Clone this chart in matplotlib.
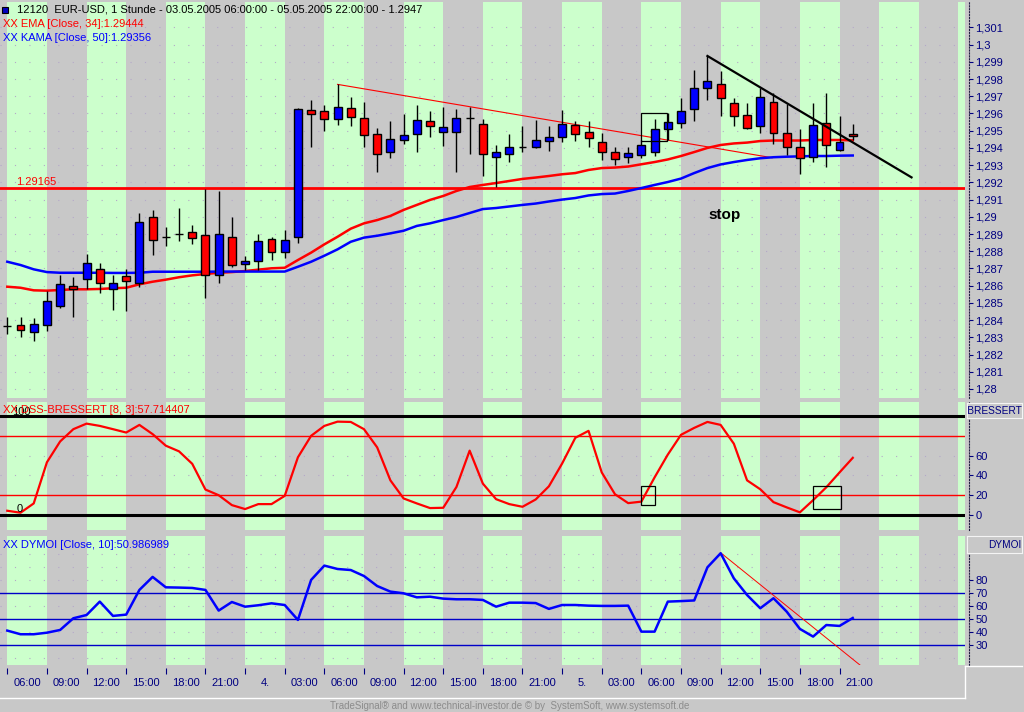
import matplotlib
matplotlib.use("Agg")
import matplotlib.pyplot as plt
from matplotlib.patches import Rectangle
from matplotlib.lines import Line2D
import numpy as np

plt.rcParams['font.family'] = ['Liberation Sans', 'DejaVu Sans']

# hourly bars, 03.05.2005 06:00 .. 05.05.2005 22:00
opens = [1.28365, 1.28370, 1.28332, 1.28370, 1.28480, 1.28596, 1.28637, 1.28695, 1.28581, 1.28656,
         1.28614, 1.28999, 1.28884, 1.28902, 1.28910, 1.28893, 1.28660, 1.28881, 1.28726, 1.28742,
         1.28869, 1.28794, 1.28881, 1.29618, 1.29613, 1.29570, 1.29630, 1.29572, 1.29479, 1.29375,
         1.29444, 1.29479, 1.29555, 1.29494, 1.29494, 1.29572, 1.29539, 1.29346, 1.29363, 1.29405,
         1.29407, 1.29442, 1.29465, 1.29533, 1.29491, 1.29436, 1.29375, 1.29346, 1.29357, 1.29376,
         1.29508, 1.29543, 1.29624, 1.29746, 1.29769, 1.29659, 1.29589, 1.29527, 1.29665, 1.29485,
         1.29404, 1.29349, 1.29543, 1.29388, 1.29481]
highs = [1.28416, 1.28416, 1.28410, 1.28567, 1.28660, 1.28652, 1.28784, 1.28733, 1.28662, 1.28697,
         1.29020, 1.29040, 1.28943, 1.29051, 1.28952, 1.29160, 1.29152, 1.29001, 1.28772, 1.28900,
         1.28884, 1.28923, 1.29630, 1.29678, 1.29649, 1.29769, 1.29697, 1.29665, 1.29514, 1.29556,
         1.29597, 1.29649, 1.29614, 1.29639, 1.29624, 1.29639, 1.29566, 1.29417, 1.29481, 1.29527,
         1.29562, 1.29527, 1.29620, 1.29558, 1.29556, 1.29485, 1.29407, 1.29407, 1.29446, 1.29566,
         1.29601, 1.29688, 1.29852, 1.29934, 1.29847, 1.29692, 1.29659, 1.29746, 1.29717, 1.29655,
         1.29510, 1.29659, 1.29721, 1.29585, 1.29539]
lows = [1.28317, 1.28303, 1.28280, 1.28335, 1.28468, 1.28419, 1.28582, 1.28556, 1.28459, 1.28455,
        1.28594, 1.28780, 1.28830, 1.28861, 1.28842, 1.28527, 1.28617, 1.28710, 1.28691, 1.28691,
        1.28749, 1.28759, 1.28846, 1.29407, 1.29500, 1.29535, 1.29529, 1.29407, 1.29262, 1.29343,
        1.29421, 1.29378, 1.29465, 1.29411, 1.29262, 1.29365, 1.29237, 1.29175, 1.29320, 1.29378,
        1.29398, 1.29384, 1.29436, 1.29442, 1.29407, 1.29330, 1.29301, 1.29314, 1.29340, 1.29353,
        1.29446, 1.29514, 1.29558, 1.29678, 1.29587, 1.29527, 1.29510, 1.29485, 1.29423, 1.29359,
        1.29249, 1.29320, 1.29291, 1.29380, 1.29446]
closes = [1.28365, 1.28340, 1.28375, 1.28509, 1.28608, 1.28578, 1.28730, 1.28617, 1.28614, 1.28625,
          1.28968, 1.28864, 1.28884, 1.28902, 1.28875, 1.28662, 1.28898, 1.28718, 1.28745, 1.28858,
          1.28796, 1.28864, 1.29624, 1.29599, 1.29566, 1.29636, 1.29578, 1.29473, 1.29363, 1.29450,
          1.29475, 1.29560, 1.29529, 1.29521, 1.29572, 1.29572, 1.29363, 1.29375, 1.29404, 1.29405,
          1.29446, 1.29462, 1.29539, 1.29481, 1.29456, 1.29376, 1.29334, 1.29369, 1.29415, 1.29512,
          1.29552, 1.29613, 1.29746, 1.29787, 1.29688, 1.29585, 1.29514, 1.29694, 1.29485, 1.29407,
          1.29340, 1.29531, 1.29415, 1.29436, 1.29470]

ema34 = [1.28594, 1.28588, 1.28573, 1.28571, 1.28575, 1.28579, 1.28579, 1.28581, 1.28585, 1.28588,
         1.28608, 1.28623, 1.28635, 1.28649, 1.28660, 1.28668, 1.28675, 1.28679, 1.28685, 1.28693,
         1.28701, 1.28704, 1.28749, 1.28792, 1.28840, 1.28884, 1.28931, 1.28962, 1.28981, 1.29005,
         1.29040, 1.29069, 1.29098, 1.29121, 1.29150, 1.29173, 1.29185, 1.29196, 1.29208, 1.29220,
         1.29228, 1.29237, 1.29247, 1.29254, 1.29272, 1.29283, 1.29286, 1.29292, 1.29305, 1.29318,
         1.29333, 1.29353, 1.29376, 1.29400, 1.29417, 1.29426, 1.29431, 1.29440, 1.29443, 1.29443,
         1.29443, 1.29446, 1.29446, 1.29446, 1.29444]
kama50 = [1.28739, 1.28720, 1.28695, 1.28679, 1.28675, 1.28675, 1.28675, 1.28675, 1.28674, 1.28674,
          1.28675, 1.28681, 1.28681, 1.28681, 1.28681, 1.28681, 1.28682, 1.28682, 1.28682, 1.28682,
          1.28682, 1.28682, 1.28710, 1.28739, 1.28774, 1.28811, 1.28855, 1.28879, 1.28890, 1.28904,
          1.28919, 1.28947, 1.28962, 1.28981, 1.28999, 1.29022, 1.29045, 1.29051, 1.29060, 1.29069,
          1.29077, 1.29089, 1.29100, 1.29109, 1.29124, 1.29132, 1.29135, 1.29150, 1.29167, 1.29185,
          1.29202, 1.29222, 1.29254, 1.29283, 1.29304, 1.29318, 1.29330, 1.29340, 1.29346, 1.29349,
          1.29351, 1.29353, 1.29353, 1.29355, 1.29356]

dss = [4.3, 2.3, 11.7, 53.3, 74.3, 86.7, 92.3, 90, 86.7, 83.3,
       91, 81.7, 70, 64.3, 51.7, 25.7, 20, 10, 6, 11,
       11, 19.3, 58.3, 80, 90, 94.3, 94, 86.7, 68.3, 35,
       16.7, 11.7, 7, 7.3, 28.3, 65, 31.7, 16, 11, 8.3,
       15.7, 29, 52, 78, 85, 43, 21, 12, 13.5, 38,
       61, 81, 88, 94, 91, 72, 35, 26, 13, 7.7,
       2.7, 15, 28, 43, 57.7]
dymoi = [41.3, 38.5, 38.5, 39.7, 41.8, 50.8, 53.3, 63.6, 52.6, 53.6,
         72.6, 82.6, 74.6, 74.4, 74.1, 72.6, 56.7, 63.3, 59.7, 60.8,
         62.3, 61, 49.5, 80.3, 91.3, 88.7, 87.9, 83.3, 75.6, 71.3,
         70, 66.9, 67.4, 65.9, 65.4, 65.4, 64.9, 59.7, 62.8, 62.8,
         62.5, 58, 61, 61, 60.5, 60.3, 60.3, 60.5, 40.5, 40.5,
         63.6, 64, 64.5, 90, 100.8, 81.5, 68.7, 58.5, 66.2, 55.9,
         42.6, 36.7, 45.6, 44.9, 51]

time_labels = ['06:00', '09:00', '12:00', '15:00', '18:00', '21:00', '4.', '03:00',
               '06:00', '09:00', '12:00', '15:00', '18:00', '21:00', '5.', '03:00',
               '06:00', '09:00', '12:00', '15:00', '18:00', '21:00']
price_ticks = [1.280 + 0.001 * k for k in range(22)]
dss_ticks = [0, 20, 40, 60]
dymoi_ticks = [30, 40, 50, 60, 70, 80]

support_level = 1.29165
red_trend_x, red_trend_y = [25, 57.9], [1.29769, 1.29343]
black_trend_x, black_trend_y = [53, 68.45], [1.29934, 1.29229]
price_box = [47.95, 49.95, 1.2944, 1.2960]
dss_boxes = [[48.0, 49.0, 9.7, 29.0], [61.0, 63.1, 6.5, 29.5]]
dymoi_trend_x, dymoi_trend_y = [54, 64.55], [101.2, 14.8]

W, H = 1024, 712
GRAY = '#c8c8c8'
GREEN = '#ccffcc'
NAVY = '#000080'
FS = 8
X0, X1 = -7.3 / 13.21, (965 - 7.3) / 13.21


def px_axes(fig, x0, y0, x1, y1):
    return fig.add_axes([x0 / W, 1 - y1 / H, (x1 - x0) / W, (y1 - y0) / H])


def base_panel(ax, ylim, grid_levels):
    ax.set_facecolor(GRAY)
    ax.set_xlim(X0, X1)
    ax.set_ylim(*ylim)
    for k in range(0, 75, 6):
        ax.axvspan(k, k + 3, color=GREEN, lw=0, zorder=0)
    for g in grid_levels:
        ax.axhline(g, color='#b4a8c8', lw=0.8, ls=(0, (1, 12)), zorder=1)
    for s in ['top', 'left', 'bottom']:
        ax.spines[s].set_visible(False)
    ax.spines['right'].set_position(('outward', 3))
    ax.spines['right'].set_linestyle(':')
    ax.spines['right'].set_linewidth(0.8)
    ax.spines['right'].set_color('#202040')
    ax.set_xticks([])
    ax.yaxis.tick_right()
    ax.tick_params(axis='y', direction='out', length=3, width=0.8, color=NAVY,
                   labelcolor=NAVY, labelsize=FS, pad=1.5)


fig = plt.figure(figsize=(W / 100, H / 100), dpi=100, facecolor=GRAY)

# price panel
ax = px_axes(fig, 0, 2, 965, 398)
base_panel(ax, (1.28 - 9 / 17220, 1.28 + 387 / 17220), price_ticks)
ax.set_yticks(price_ticks)
ax.set_yticklabels([f"{v:.3f}".rstrip('0').replace('.', ',') for v in price_ticks])

x = np.arange(len(closes))
o, h, l, c = map(np.array, (opens, highs, lows, closes))
colors = np.where(c > o, '#0000ff', np.where(c < o, '#ff0000', 'black'))
ax.axhline(support_level, color='#ff0000', lw=2, zorder=2)
ax.text(0.7, support_level + 0.00018, '1.29165', color='#ff0000', fontsize=FS)
ax.plot(red_trend_x, red_trend_y, color='#ff0000', lw=0.8, zorder=2)
ax.plot(x, ema34, color='#ff0000', lw=1.8, zorder=2.5)
ax.plot(x, kama50, color='#0000ff', lw=1.8, zorder=2.5)
ax.vlines(x, l, h, color='black', lw=1.0, zorder=3)
ax.bar(x, c - o, bottom=o, width=0.6, color=colors, edgecolor='black', linewidth=1.0, zorder=4)
ax.plot(black_trend_x, black_trend_y, color='black', lw=1.6, zorder=5)
bx = price_box
ax.add_patch(Rectangle((bx[0], bx[2]), bx[1] - bx[0], bx[3] - bx[2], fill=False,
                       ec='black', lw=0.9, zorder=5))
ax.text(54.3, 1.28985, 'stop', fontsize=11, fontweight='bold', color='black', ha='center')

fig.add_artist(Rectangle((2 / W, 1 - 13 / H), 6 / W, 6 / H, transform=fig.transFigure,
                         fc='#0000c0', ec='black', lw=0.8))
fig.text(17 / W, 1 - 10 / H,
         '12120  EUR-USD, 1 Stunde - 03.05.2005 06:00:00 - 05.05.2005 22:00:00 - 1.2947',
         fontsize=FS, va='center', color='black')
fig.text(3 / W, 1 - 24 / H, 'XX EMA [Close, 34]:1.29444', fontsize=FS, va='center', color='#ff0000')
fig.text(3 / W, 1 - 38 / H, 'XX KAMA [Close, 50]:1.29356', fontsize=FS, va='center', color='#0000ff')

# DSS Bressert panel
ax2 = px_axes(fig, 0, 402, 965, 530)
base_panel(ax2, ((515 - 530) / 0.99, (515 - 402) / 0.99), [40, 60])
ax2.set_yticks(dss_ticks)
ax2.axhline(0, color='black', lw=2.2, zorder=2)
ax2.axhline(100, color='black', lw=2.2, zorder=2)
ax2.axhline(20, color='#ff0000', lw=1, zorder=2)
ax2.axhline(80, color='#ff0000', lw=1, zorder=2)
ax2.plot(x, dss, color='#ff0000', lw=1.6, zorder=3)
for b in dss_boxes:
    ax2.add_patch(Rectangle((b[0], b[2]), b[1] - b[0], b[3] - b[2], fill=False,
                            ec='black', lw=0.9, zorder=4))
ax2.text(1.05, 99, '100', fontsize=FS, ha='center', va='bottom', color='black')
ax2.text(0.95, 1, '0', fontsize=FS, ha='center', va='bottom', color='black')
fig.text(3 / W, 1 - 410 / H, 'XX DSS-BRESSERT [8, 3]:57.714407', fontsize=FS,
         va='center', color='#ff0000')

# DYMOI panel
ax3 = px_axes(fig, 0, 536, 965, 665)
base_panel(ax3, (70 - (665 - 593.3) / 1.3, 70 + (593.3 - 536) / 1.3), [20, 40, 60, 80, 90, 100])
ax3.set_yticks(dymoi_ticks)
for lev in [30, 50, 70]:
    ax3.axhline(lev, color='#0000c8', lw=1, zorder=2)
ax3.plot(dymoi_trend_x, dymoi_trend_y, color='#ff0000', lw=0.7, zorder=3)
ax3.plot(x, dymoi, color='#0000ff', lw=1.8, zorder=4)
fig.text(3 / W, 1 - 545 / H, 'XX DYMOI [Close, 10]:50.986989', fontsize=FS,
         va='center', color='#0000ff')

# time axis: tick marks every 3 hours, labels centred in the interval
axt = px_axes(fig, 0, 668, 965, 677)
axt.set_facecolor('none')
axt.set_xlim(X0, X1)
axt.set_yticks([])
for s in axt.spines.values():
    s.set_visible(False)
axt.set_xticks(range(0, 64, 3))
axt.set_xticklabels([])
axt.set_xticks([t + 1.5 for t in range(0, 64, 3)], minor=True)
axt.set_xticklabels(time_labels, minor=True)
axt.tick_params(axis='x', which='major', top=True, bottom=False, direction='in', length=4,
                width=0.8, color=NAVY)
axt.tick_params(axis='x', which='minor', top=False, bottom=False, length=0,
                labelcolor=NAVY, labelsize=FS, pad=1)

# right-hand label boxes
for (y0, y1, name) in [(403, 418, 'DSS-BRESSERT'), (536, 553, 'DYMOI')]:
    axl = px_axes(fig, 967, y0, 1022, y1)
    axl.set_facecolor(GRAY)
    axl.set_xticks([])
    axl.set_yticks([])
    for s in axl.spines.values():
        s.set_color('#f4f4f4')
        s.set_linewidth(0.8)
    axl.text(0.99, 0.45, name, transform=axl.transAxes, ha='right', va='center',
             fontsize=7.3, color=NAVY, clip_on=True)

# frame lines
fig.add_artist(Line2D([0, 965 / W], [1 - 698 / H, 1 - 698 / H], transform=fig.transFigure,
                      color='white', lw=1))
fig.add_artist(Line2D([965 / W, 965 / W], [1 - 698 / H, 1 - 666 / H], transform=fig.transFigure,
                      color='white', lw=1))
fig.add_artist(Line2D([965 / W, 1022 / W], [1 - 666 / H, 1 - 666 / H], transform=fig.transFigure,
                      color='white', lw=1))

fig.text(510 / W, 1 - 706 / H,
         'TradeSignal\u00ae and www.technical-investor.de \u00a9 by  SystemSoft, www.systemsoft.de',
         fontsize=7, ha='center', va='center', color='#8c8c8c')

fig.savefig('out.png', dpi=100, facecolor=GRAY)
